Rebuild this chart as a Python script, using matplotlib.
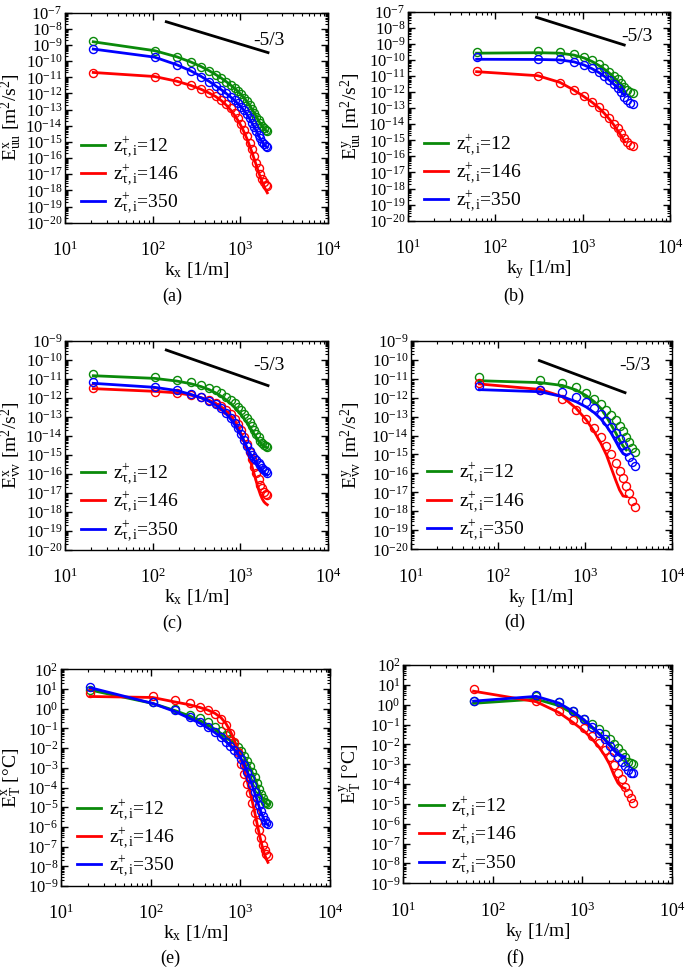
import matplotlib
matplotlib.use("Agg")
import matplotlib.pyplot as plt
import numpy as np
from matplotlib.ticker import LogLocator, LogFormatterMathtext, NullFormatter

plt.rcParams["font.family"] = ["Liberation Serif", "DejaVu Serif"]
plt.rcParams["mathtext.fontset"] = "custom"
plt.rcParams["mathtext.rm"] = "Liberation Serif"
plt.rcParams["mathtext.it"] = "Liberation Serif:italic"
plt.rcParams["mathtext.bf"] = "Liberation Serif:bold"

# wavenumbers (1/m)
kx = [21, 105, 188, 272, 356, 440, 523, 607, 691, 775, 858, 942, 1026, 1110,
      1194, 1277, 1361, 1445, 1529, 1612, 1696, 1780, 1864, 1948, 2031]
ky = [61, 306, 551, 796, 1041, 1286, 1531, 1776, 2020, 2265, 2510, 2755,
      3000, 3245, 3490, 3734]
n_ky_line = 13  # model curves in k_y stop at ~3000

series_labels = [r"z$^{+}_{\mathrm{\tau,i}}$=12", r"z$^{+}_{\mathrm{\tau,i}}$=146",
                 r"z$^{+}_{\mathrm{\tau,i}}$=350"]
series_colors = ["#0a8a0a", "#ff0000", "#0000ff"]

# all spectra below are log10 values
# (a) E_uu^x
uux_green_line = [-8.80, -9.35, -9.73, -10.05, -10.33, -10.59, -10.83, -11.05, -11.27, -11.48, -11.68, -11.88, -12.08,
                  -12.29, -12.51, -12.74, -12.98, -13.22, -13.45, -13.67, -13.87, -14.04, -14.18, -14.28, -14.35]
uux_green_pts = [-8.78, -9.36, -9.74, -10.06, -10.34, -10.60, -10.83, -11.05, -11.26, -11.46, -11.66, -11.86, -12.06,
                 -12.27, -12.49, -12.72, -12.96, -13.20, -13.43, -13.65, -13.85, -14.02, -14.16, -14.26, -14.32]
uux_red_line = [-10.70, -10.95, -11.24, -11.50, -11.74, -11.97, -12.19, -12.44, -12.72, -13.02, -13.34, -13.68, -14.04,
                -14.42, -14.82, -15.24, -15.66, -16.08, -16.48, -16.86, -17.20, -17.50, -17.75, -17.97, -18.15]
uux_red_pts = [-10.71, -10.96, -11.23, -11.47, -11.72, -11.95, -12.15, -12.40, -12.65, -12.92, -13.23, -13.54, -13.89,
               -14.26, -14.63, -15.04, -15.45, -15.87, -16.28, -16.63, -16.98, -17.29, -17.50, -17.65, -17.70]
uux_blue_line = [-9.25, -9.75, -10.22, -10.60, -10.94, -11.25, -11.53, -11.77, -12.00, -12.22, -12.43, -12.64, -12.85,
                 -13.07, -13.31, -13.57, -13.83, -14.09, -14.35, -14.60, -14.82, -15.02, -15.17, -15.27, -15.33]
uux_blue_pts = [-9.27, -9.76, -10.24, -10.63, -10.96, -11.27, -11.54, -11.76, -11.99, -12.20, -12.40, -12.60, -12.81,
                -13.02, -13.27, -13.54, -13.80, -14.05, -14.32, -14.57, -14.77, -14.98, -15.12, -15.23, -15.29]

# (b) E_uu^y
uuy_green_line = [-9.58, -9.55, -9.58, -9.70, -9.88, -10.10, -10.34, -10.58, -10.82, -11.07, -11.30, -11.52, -11.72]
uuy_green_pts = [-9.49, -9.45, -9.49, -9.66, -9.84, -10.03, -10.26, -10.49, -10.73, -11.00, -11.21, -11.46, -11.71,
                 -11.88, -11.98, -12.04]
uuy_red_line = [-10.73, -10.98, -11.40, -11.88, -12.29, -12.64, -12.98, -13.33, -13.68, -14.03, -14.38, -14.72, -15.05]
uuy_red_pts = [-10.69, -10.98, -11.46, -11.88, -12.23, -12.60, -12.91, -13.27, -13.62, -13.97, -14.26, -14.57, -14.86,
               -15.09, -15.30, -15.34]
uuy_blue_line = [-9.96, -9.97, -10.00, -10.12, -10.32, -10.55, -10.78, -11.02, -11.26, -11.50, -11.74, -11.98, -12.20]
uuy_blue_pts = [-9.84, -9.95, -9.97, -10.11, -10.32, -10.53, -10.73, -10.98, -11.22, -11.48, -11.75, -12.02, -12.29,
                -12.50, -12.66, -12.77]

# (c) E_vv^x
vvx_green_line = [-10.84, -10.98, -11.12, -11.26, -11.41, -11.57, -11.74, -11.92, -12.11, -12.30, -12.50, -12.70, -12.90,
                  -13.11, -13.32, -13.53, -13.73, -13.92, -14.10, -14.25, -14.38, -14.48, -14.55, -14.60, -14.62]
vvx_green_pts = [-10.75, -10.93, -11.07, -11.19, -11.33, -11.47, -11.61, -11.77, -11.94, -12.12, -12.29, -12.47, -12.64,
                 -12.85, -13.05, -13.26, -13.48, -13.69, -13.90, -14.08, -14.25, -14.39, -14.48, -14.55, -14.60]
vvx_red_line = [-11.52, -11.66, -11.74, -11.86, -11.99, -12.13, -12.29, -12.48, -12.70, -12.95, -13.24, -13.56, -13.92,
                -14.32, -14.74, -15.18, -15.62, -16.04, -16.44, -16.80, -17.10, -17.32, -17.47, -17.56, -17.62]
vvx_red_pts = [-11.50, -11.71, -11.73, -11.85, -11.98, -12.12, -12.26, -12.43, -12.64, -12.85, -13.10, -13.38, -13.69,
               -14.04, -14.43, -14.83, -15.23, -15.62, -15.97, -16.29, -16.58, -16.76, -16.93, -17.06, -17.12]
vvx_blue_line = [-11.24, -11.45, -11.62, -11.82, -12.00, -12.18, -12.38, -12.60, -12.85, -13.12, -13.40, -13.70, -14.01,
                 -14.32, -14.62, -14.88, -15.10, -15.28, -15.44, -15.58, -15.72, -15.84, -15.94, -16.01, -16.06]
vvx_blue_pts = [-11.19, -11.42, -11.59, -11.80, -11.98, -12.15, -12.35, -12.56, -12.82, -13.08, -13.34, -13.61, -13.92,
                -14.22, -14.53, -14.78, -14.99, -15.14, -15.28, -15.41, -15.55, -15.68, -15.79, -15.87, -15.93]

# (d) E_vv^y
vvy_green_line = [-11.11, -11.21, -11.36, -11.60, -11.90, -12.22, -12.57, -13.01, -13.45, -13.85, -14.24, -14.55, -14.76]
vvy_green_pts = [-10.90, -11.07, -11.21, -11.46, -11.78, -12.08, -12.36, -12.66, -12.92, -13.18, -13.48, -13.76, -14.06,
                 -14.36, -14.64, -14.89]
vvy_red_line = [-11.28, -11.57, -11.95, -12.57, -13.18, -13.80, -14.41, -15.03, -15.73, -16.35, -16.87, -17.19, -17.22]
vvy_red_pts = [-11.25, -11.62, -12.09, -12.66, -13.15, -13.62, -14.10, -14.55, -14.99, -15.43, -15.85, -16.26, -16.66,
               -17.05, -17.44, -17.75]
vvy_blue_line = [-11.58, -11.69, -11.95, -12.22, -12.50, -12.80, -13.12, -13.50, -13.89, -14.30, -14.68, -14.95, -15.03]
vvy_blue_pts = [-11.39, -11.60, -11.72, -11.95, -12.25, -12.57, -12.88, -13.22, -13.53, -13.89, -14.18, -14.50, -14.82,
                -15.12, -15.38, -15.59]

# (e) E_T^x
tx_green_line = [0.95, 0.27, -0.10, -0.37, -0.61, -0.83, -1.05, -1.25, -1.45, -1.62, -1.79, -2.01, -2.23,
                 -2.47, -2.72, -2.97, -3.25, -3.53, -3.82, -4.13, -4.37, -4.57, -4.72, -4.80, -4.87]
tx_green_pts = [0.95, 0.33, -0.03, -0.32, -0.49, -0.69, -0.91, -1.11, -1.33, -1.55, -1.72, -1.93, -2.13,
                -2.40, -2.64, -2.91, -3.19, -3.48, -3.79, -4.09, -4.33, -4.55, -4.72, -4.80, -4.84]
tx_red_line = [0.62, 0.57, 0.34, 0.20, 0.06, -0.08, -0.24, -0.45, -0.75, -1.15, -1.60, -2.10, -2.62,
               -3.15, -3.68, -4.20, -4.72, -5.25, -5.78, -6.28, -6.72, -7.10, -7.40, -7.62, -7.80]
tx_red_pts = [0.80, 0.62, 0.44, 0.27, 0.10, -0.05, -0.27, -0.52, -0.85, -1.25, -1.70, -2.20, -2.80,
              -3.30, -3.80, -4.30, -4.80, -5.30, -5.75, -6.15, -6.55, -6.90, -7.18, -7.38, -7.48]
tx_blue_line = [1.07, 0.27, -0.15, -0.49, -0.74, -1.00, -1.22, -1.45, -1.67, -1.89, -2.09, -2.31, -2.57,
                -2.87, -3.21, -3.55, -3.91, -4.26, -4.60, -4.94, -5.23, -5.48, -5.68, -5.82, -5.90]
tx_blue_pts = [1.09, 0.33, -0.06, -0.40, -0.66, -0.94, -1.16, -1.42, -1.67, -1.89, -2.09, -2.30, -2.55,
               -2.86, -3.19, -3.53, -3.87, -4.21, -4.55, -4.89, -5.17, -5.44, -5.65, -5.78, -5.85]

# (f) E_T^y
ty_green_line = [0.07, 0.28, -0.05, -0.45, -0.82, -1.15, -1.45, -1.73, -2.00, -2.25, -2.48, -2.62, -2.70]
ty_green_pts = [0.20, 0.42, 0.14, -0.32, -0.72, -0.95, -1.24, -1.49, -1.73, -1.98, -2.20, -2.45, -2.66,
                -2.87, -2.96, -2.99]
ty_red_line = [0.68, 0.15, -0.40, -0.91, -1.31, -1.72, -2.12, -2.55, -3.00, -3.55, -3.95, -4.15, -4.22]
ty_red_pts = [0.77, 0.20, -0.30, -0.77, -1.19, -1.56, -1.92, -2.29, -2.66, -3.04, -3.43, -3.76, -4.13,
              -4.47, -4.72, -4.94]
ty_blue_line = [0.18, 0.42, 0.08, -0.35, -0.75, -1.12, -1.45, -1.75, -2.05, -2.30, -2.50, -2.60, -2.62]
ty_blue_pts = [0.20, 0.49, 0.15, -0.30, -0.72, -1.14, -1.45, -1.75, -2.08, -2.37, -2.66, -2.87, -3.09,
               -3.29, -3.43, -3.46]

# -5/3 guide lines (k, log10 E) and label anchors
ref_uux_k, ref_uux_logE = [143, 2070], [-7.56, -9.47]
ref_uuy_k, ref_uuy_logE = [296, 2993], [-7.35, -9.07]
ref_vvx_k, ref_vvx_logE = [143, 2070], [-9.49, -11.36]
ref_vvy_k, ref_vvy_logE = [300, 2904], [-10.05, -11.74]
ref_label_uux = (1397, -8.73)
ref_label_uuy = (2790, -8.56)
ref_label_vvx = (1397, -10.31)
ref_label_vvy = (2495, -10.32)

W, H = 685, 968
fig = plt.figure(figsize=(W / 100, H / 100), dpi=100)


def rect(l, r, t, b):
    return [l / W, 1 - b / H, (r - l) / W, (b - t) / H]


def panel(box, k, n_line, lines, pts, ylim, xlab, ylab, ref=None, ref_lab=None,
          leg_anchor=(0.06, 0.03)):
    ax = fig.add_axes(rect(*box))
    width = box[1] - box[0]
    handles = []
    for yl, yp, c, lab in zip(lines, pts, series_colors, series_labels):
        h, = ax.plot(k[:n_line], 10.0 ** np.array(yl), color=c, lw=2.0, label=lab)
        ax.plot(k, 10.0 ** np.array(yp), ls="none", marker="o", ms=5.8,
                mfc="none", mec=c, mew=1.0)
        handles.append(h)
    if ref is not None:
        ax.plot(ref[0], 10.0 ** np.array(ref[1]), color="k", lw=2.0)
        ax.text(ref_lab[0], 10.0 ** ref_lab[1], "-5/3", fontsize=14,
                ha="left", va="center")
    ax.set_xscale("log")
    ax.set_yscale("log")
    ax.set_xlim(10, 1e4)
    ax.set_ylim(*ylim)
    ax.xaxis.set_major_locator(LogLocator(base=10, numticks=30))
    ax.yaxis.set_major_locator(LogLocator(base=10, numticks=30))
    ax.xaxis.set_minor_locator(LogLocator(base=10, subs=np.arange(2, 10), numticks=60))
    ax.yaxis.set_minor_locator(LogLocator(base=10, subs=np.arange(2, 10), numticks=200))
    ax.xaxis.set_major_formatter(LogFormatterMathtext())
    ax.yaxis.set_major_formatter(LogFormatterMathtext())
    ax.xaxis.set_minor_formatter(NullFormatter())
    ax.yaxis.set_minor_formatter(NullFormatter())
    ax.tick_params(which="both", direction="in", top=True, right=True)
    ax.tick_params(which="major", length=5, width=1.0, pad=2)
    ax.tick_params(which="minor", length=2.5, width=0.8)
    ax.tick_params(axis="x", which="major", pad=13, labelsize=13)
    ax.tick_params(axis="y", labelsize=12)
    for s in ax.spines.values():
        s.set_linewidth(1.0)
    ax.set_xlabel(xlab, fontsize=14, labelpad=0)
    ax.set_ylabel(ylab, fontsize=14)
    # rotated y label placed near the left edge of its column
    col_left = 0 if box[0] < W / 2 else 340
    ax.yaxis.set_label_coords((col_left + 24 - box[0]) / width, 0.5)
    ax.legend(handles=handles, loc="lower left", bbox_to_anchor=leg_anchor,
              frameon=False, fontsize=14, handlelength=1.25, handletextpad=0.4,
              labelspacing=0.15, borderpad=0, borderaxespad=0)
    return ax


xl = r"k$_{\mathrm{x}}$ [1/m]"
yl = r"k$_{\mathrm{y}}$ [1/m]"

panel((65, 328, 12.7, 222.7), kx, len(kx),
      [uux_green_line, uux_red_line, uux_blue_line],
      [uux_green_pts, uux_red_pts, uux_blue_pts],
      (1e-20, 1e-7), xl, r"E$^{\mathrm{x}}_{\mathrm{uu}}$ [m$^{2}$/s$^{2}$]",
      (ref_uux_k, ref_uux_logE), ref_label_uux)
panel((408, 670, 11.7, 220.7), ky, n_ky_line,
      [uuy_green_line, uuy_red_line, uuy_blue_line],
      [uuy_green_pts, uuy_red_pts, uuy_blue_pts],
      (1e-20, 1e-7), yl, r"E$^{\mathrm{y}}_{\mathrm{uu}}$ [m$^{2}$/s$^{2}$]",
      (ref_uuy_k, ref_uuy_logE), ref_label_uuy)
panel((65, 328, 340.7, 550), kx, len(kx),
      [vvx_green_line, vvx_red_line, vvx_blue_line],
      [vvx_green_pts, vvx_red_pts, vvx_blue_pts],
      (1e-20, 1e-9), xl, r"E$^{\mathrm{x}}_{\mathrm{vv}}$ [m$^{2}$/s$^{2}$]",
      (ref_vvx_k, ref_vvx_logE), ref_label_vvx)
panel((411, 671.7, 340.7, 549.3), ky, n_ky_line,
      [vvy_green_line, vvy_red_line, vvy_blue_line],
      [vvy_green_pts, vvy_red_pts, vvy_blue_pts],
      (1e-20, 1e-9), yl, r"E$^{\mathrm{y}}_{\mathrm{vv}}$ [m$^{2}$/s$^{2}$]",
      (ref_vvy_k, ref_vvy_logE), ref_label_vvy)
panel((61, 330, 669.3, 886), kx, len(kx),
      [tx_green_line, tx_red_line, tx_blue_line],
      [tx_green_pts, tx_red_pts, tx_blue_pts],
      (1e-9, 1e2), xl, r"E$^{\mathrm{x}}_{\mathrm{T}}$ [°C]")
panel((403.3, 671.7, 665, 883.3), ky, n_ky_line,
      [ty_green_line, ty_red_line, ty_blue_line],
      [ty_green_pts, ty_red_pts, ty_blue_pts],
      (1e-9, 1e2), yl, r"E$^{\mathrm{y}}_{\mathrm{T}}$ [°C]")

for lab, x, y in [("(a)", 172, 296), ("(b)", 514, 296), ("(c)", 172, 623),
                  ("(d)", 515, 622), ("(e)", 170, 958), ("(f)", 515, 958)]:
    fig.text(x / W, 1 - y / H, lab, fontsize=13, ha="center", va="center")

fig.savefig("out.png", dpi=100)
